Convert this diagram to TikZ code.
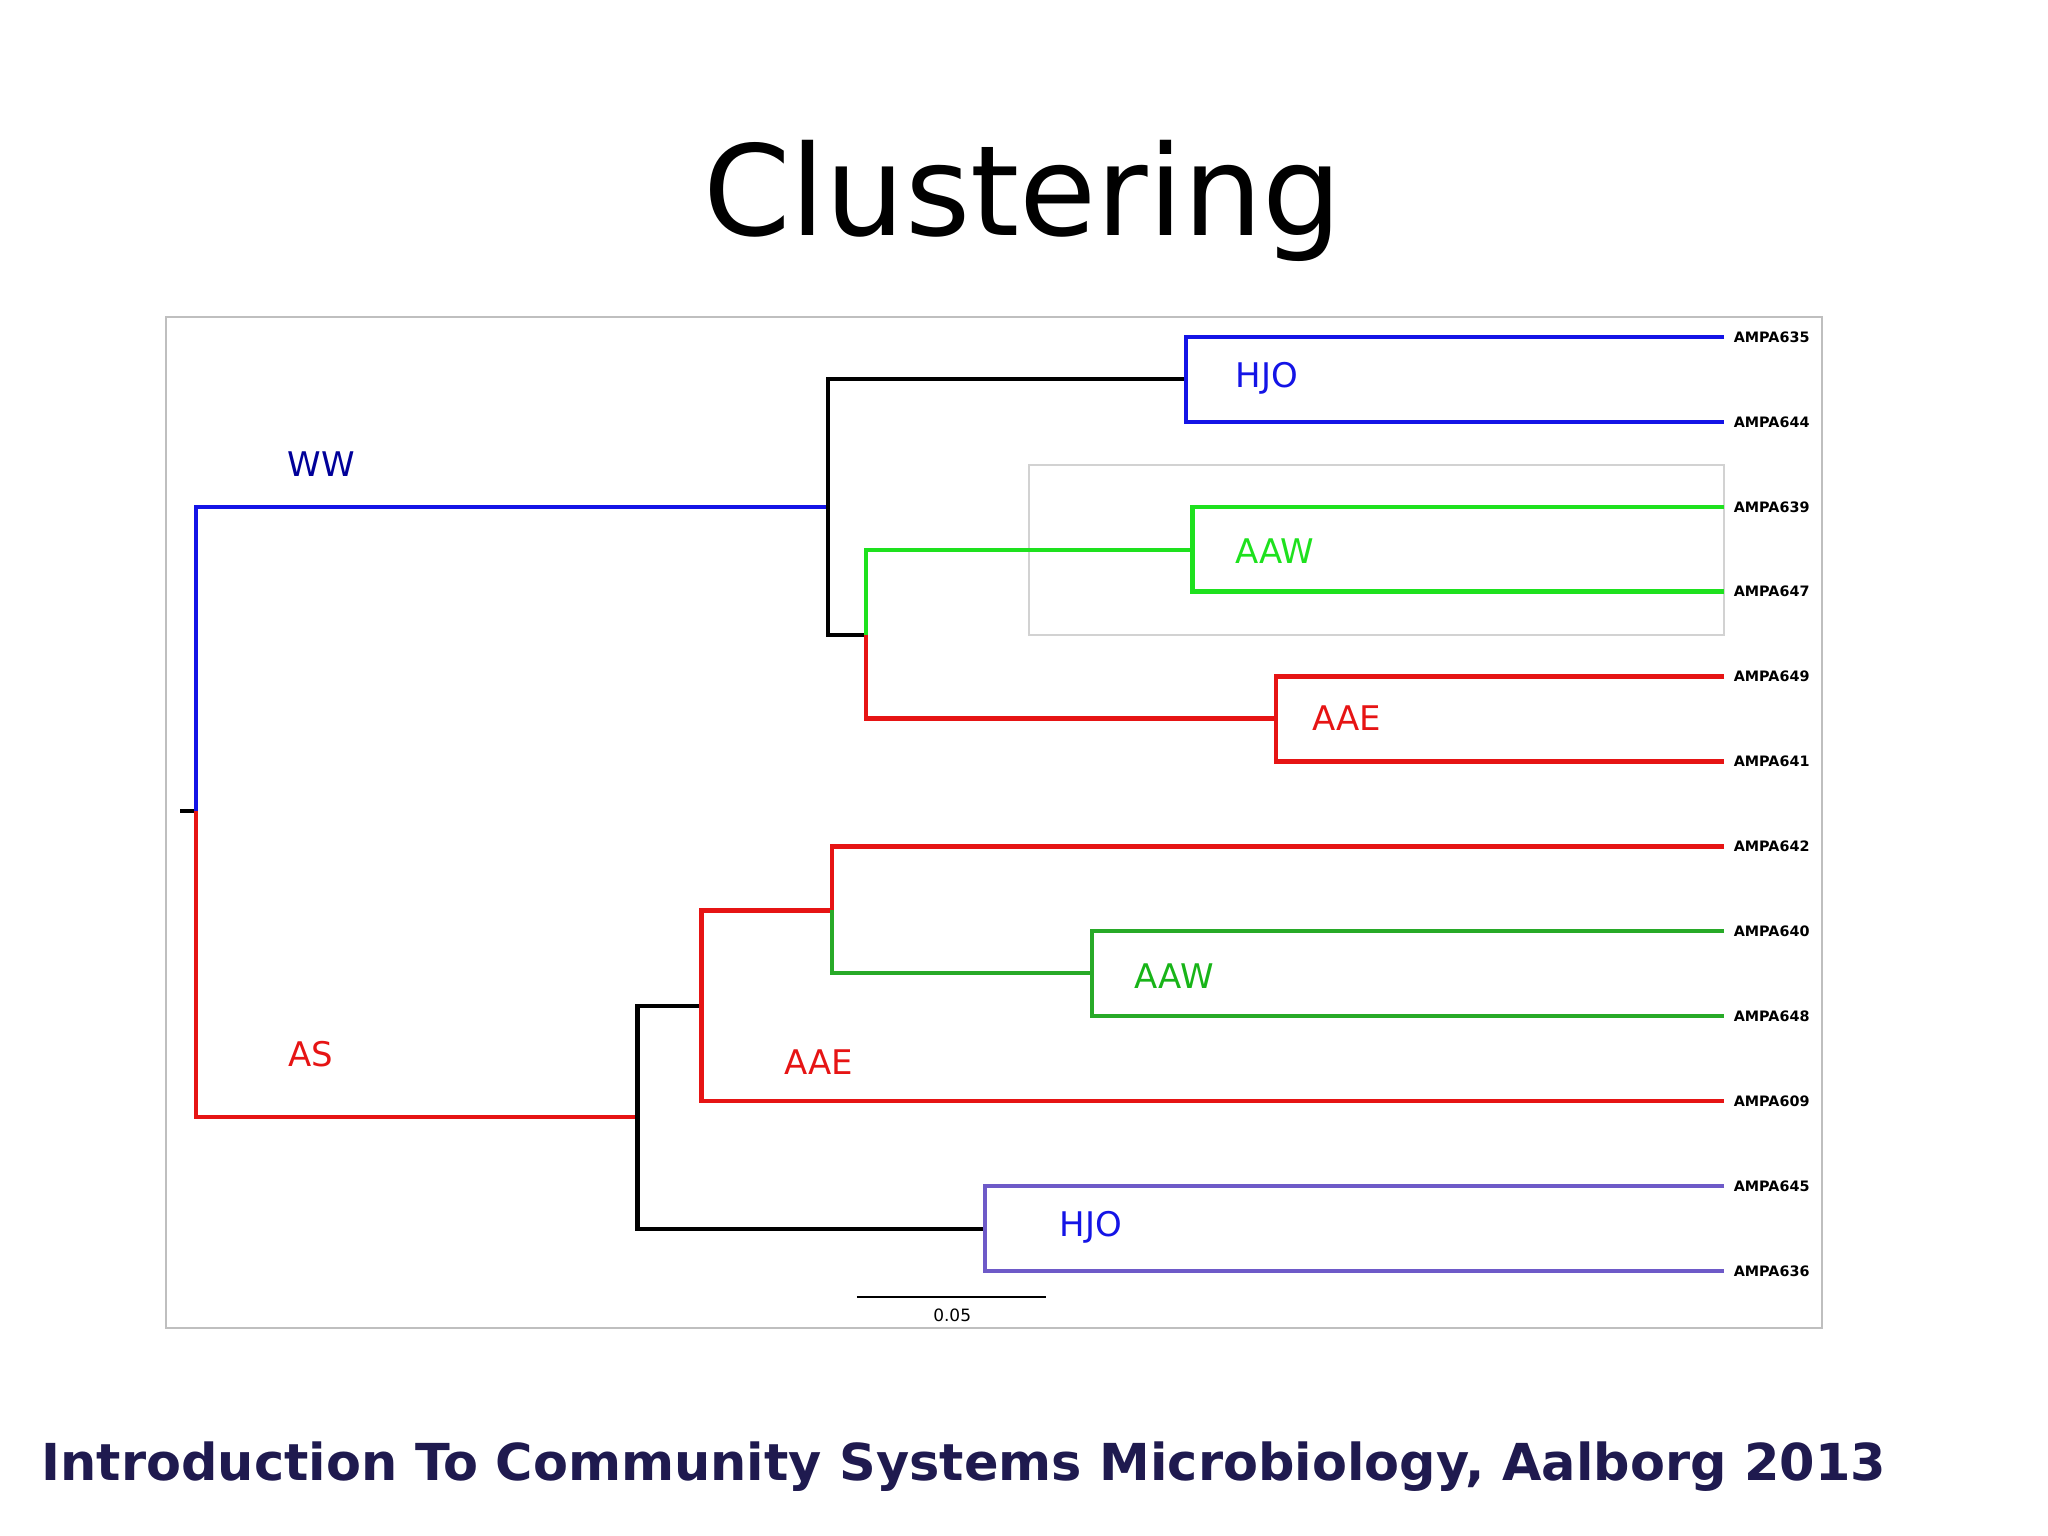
\documentclass[tikz,border=0pt]{standalone}
\usepackage{fontspec}
\setmainfont{DejaVu Sans}
\begin{document}
\begin{tikzpicture}[x=0.5pt,y=-0.5pt,
  br/.style={line width=1.7pt},
  lf/.style={anchor=west,font=\bfseries\fontsize{5.5}{6}\selectfont,inner sep=0pt},
  lab/.style={font=\fontsize{13}{15}\selectfont}]
\definecolor{bl}{RGB}{20,20,230}
\definecolor{gr}{RGB}{30,225,30}
\definecolor{dg}{RGB}{40,170,40}
\definecolor{rd}{RGB}{230,20,20}
\definecolor{pu}{RGB}{110,90,200}
\definecolor{foot}{RGB}{31,26,79}
\useasboundingbox (0,0) rectangle (1568,1176);
\node (title) at (783,154) {\fontsize{48}{56}\selectfont Clustering};
\draw[gray!50,line width=0.8pt] (127,243) rectangle (1395,1017);
\draw[gray!35,line width=0.6pt] (788,356) rectangle (1320,486);
% leaves
\foreach \y/\t in {258/635,323/644,388/639,453/647,518/649,583/641,648/642,713/640,778/648,843/609,908/645,973/636}
  \node[lf] (L\t) at (1327,\y) {AMPA\t};
% upper
\draw[br,black] (138,621) -- (150,621);
\draw[br,bl] (150,621) |- (634,388);
\draw[br,black] (908,290) -| (634,486) -- (663,486);
\draw[br,bl] (1320,258) -| (908,323) -- (1320,323);
\draw[br,gr] (663,486) |- (913,421);
\draw[br,gr] (1320,388) -| (913,453) -- (1320,453);
\draw[br,rd] (663,486) |- (977,550);
\draw[br,rd] (1320,518) -| (977,583) -- (1320,583);
% lower
\draw[br,rd] (150,621) |- (488,855);
\draw[br,black] (537,770) -| (488,941) -- (754,941);
\draw[br,rd] (637,697) -| (537,843) -- (1320,843);
\draw[br,rd] (637,697) |- (1320,648);
\draw[br,dg] (637,697) |- (836,745);
\draw[br,dg] (1320,713) -| (836,778) -- (1320,778);
\draw[br,pu] (1320,908) -| (754,973) -- (1320,973);
% labels
\node[lab,text=blue!60!black] (ww) at (246,355) {WW};
\node[lab,text=rd] (as) at (238,807) {AS};
\node[lab,text=bl] (h1) at (970,290) {HJO};
\node[lab,text=gr] (a1) at (976,422) {AAW};
\node[lab,text=rd] (e1) at (1031,550) {AAE};
\node[lab,text=gr!80!black] (a2) at (899,747) {AAW};
\node[lab,text=rd] (e2) at (627,813) {AAE};
\node[lab,text=bl] (h2) at (835,940) {HJO};
% scale bar
\draw[line width=0.6pt] (656,993) -- (801,993);
\node[font=\fontsize{6.5}{7}\selectfont] (sc) at (729,1007) {0.05};
\node[text=foot,font=\bfseries\fontsize{19.5}{24}\selectfont] (ft) at (738,1123) {Introduction To Community Systems Microbiology, Aalborg 2013};
\end{tikzpicture}
\end{document}
